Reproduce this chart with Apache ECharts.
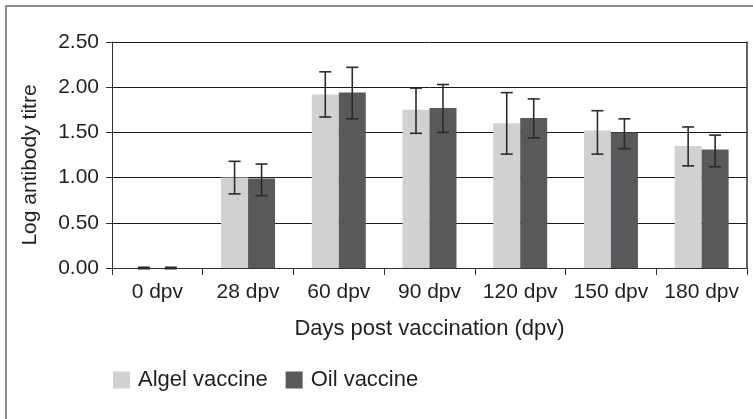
<!DOCTYPE html>
<html>
<head>
<meta charset="utf-8">
<script src="https://cdn.jsdelivr.net/npm/echarts@6/dist/echarts.min.js"></script>
<style>
html,body{margin:0;padding:0;background:#fff;}
#chart{width:753px;height:419px;}
</style>
</head>
<body>
<div id="chart"></div>
<script>
const categories = ['0 dpv','28 dpv','60 dpv','90 dpv','120 dpv','150 dpv','180 dpv'];
const algel = [0, 1.00, 1.92, 1.75, 1.60, 1.52, 1.35];
const algelLow = [-0.008, 0.82, 1.67, 1.49, 1.26, 1.26, 1.13];
const algelHigh = [0.008, 1.18, 2.17, 1.99, 1.94, 1.74, 1.56];
const oil = [0, 0.99, 1.94, 1.77, 1.66, 1.50, 1.31];
const oilLow = [-0.008, 0.80, 1.65, 1.50, 1.44, 1.32, 1.12];
const oilHigh = [0.008, 1.15, 2.22, 2.03, 1.87, 1.65, 1.47];
const yTicks = [0, 0.5, 1, 1.5, 2, 2.5];

const FONT = '"Liberation Sans", Arial, Helvetica, sans-serif';
const TXT = '#231f20';
const CAT_GAP = 0.405;

function errSeries(low, high, idx) {
  return {
    type: 'custom',
    silent: true,
    z: 5,
    data: categories.map((c, i) => [i, low[i], high[i]]),
    renderItem: function (params, api) {
      const i = api.value(0);
      const band = api.size([1, 0])[0];
      const bw = band * (1 - CAT_GAP) / 2;
      const c = api.coord([i, 0]);
      const x = c[0] + (idx === 0 ? -bw / 2 : bw / 2);
      const yl = api.coord([i, api.value(1)])[1];
      const yh = api.coord([i, api.value(2)])[1];
      const cap = 6;
      const st = { stroke: '#2b2b2b', lineWidth: 1.6 };
      return {
        type: 'group',
        children: [
          { type: 'line', shape: { x1: x, y1: yl, x2: x, y2: yh }, style: st },
          { type: 'line', shape: { x1: x - cap, y1: yl, x2: x + cap, y2: yl }, style: st },
          { type: 'line', shape: { x1: x - cap, y1: yh, x2: x + cap, y2: yh }, style: st }
        ]
      };
    }
  };
}

const chart = echarts.init(document.getElementById('chart'), null, { renderer: 'canvas' });
chart.setOption({
  animation: false,
  backgroundColor: '#fff',
  textStyle: { fontFamily: FONT },
  graphic: [{
    type: 'polyline',
    shape: { points: [[6, 419], [6, 6], [753, 6]] },
    style: { stroke: '#8c8c8c', lineWidth: 2, fill: null }
  }],
  grid: { left: 112, right: 6, top: 42, bottom: 151 },
  legend: {
    left: 108, top: 364,
    itemWidth: 17, itemHeight: 17, itemGap: 18,
    icon: 'rect',
    textStyle: { fontSize: 22, color: TXT, fontFamily: FONT, padding: [0, 0, 0, 3] },
    data: ['Algel vaccine', 'Oil vaccine']
  },
  xAxis: {
    type: 'category',
    data: categories,
    name: 'Days post vaccination (dpv)',
    nameLocation: 'middle',
    nameGap: 50,
    nameTextStyle: { fontSize: 22, color: TXT, fontFamily: FONT },
    axisLine: { lineStyle: { color: '#333', width: 1 } },
    axisTick: { show: true, length: 7, interval: 0, lineStyle: { color: '#333' } },
    axisLabel: { fontSize: 21, color: TXT, margin: 14, interval: 0, fontFamily: FONT }
  },
  yAxis: [{
    type: 'value',
    min: 0, max: 2.5, interval: 0.5,
    name: 'Log antibody titre',
    nameLocation: 'middle',
    nameGap: 71,
    nameTextStyle: { fontSize: 21, color: TXT, fontFamily: FONT, padding: [0, 20, 0, 0] },
    axisLine: { show: true, lineStyle: { color: '#333', width: 1 } },
    axisTick: { show: true, length: 6, lineStyle: { color: '#333' } },
    axisLabel: { fontSize: 21, color: TXT, margin: 13, fontFamily: FONT,
      formatter: v => yTicks.indexOf(v) >= 0 ? v.toFixed(2) : '' },
    splitLine: { show: true, lineStyle: { color: '#1a1a1a', width: 1 } }
  }, {
    type: 'value', position: 'right',
    min: 0, max: 2.5, interval: 0.5,
    axisLine: { show: true, lineStyle: { color: '#333', width: 1.5 } },
    axisTick: { show: false }, axisLabel: { show: false }, splitLine: { show: false }
  }],
  series: [
    { name: 'Algel vaccine', type: 'bar', data: algel, barGap: '0%', barCategoryGap: (CAT_GAP * 100) + '%',
      itemStyle: { color: '#d0d1d3' } },
    { name: 'Oil vaccine', type: 'bar', data: oil, barGap: '0%', barCategoryGap: (CAT_GAP * 100) + '%',
      itemStyle: { color: '#58595b' } },
    errSeries(algelLow, algelHigh, 0),
    errSeries(oilLow, oilHigh, 1)
  ]
});
</script>
</body>
</html>
